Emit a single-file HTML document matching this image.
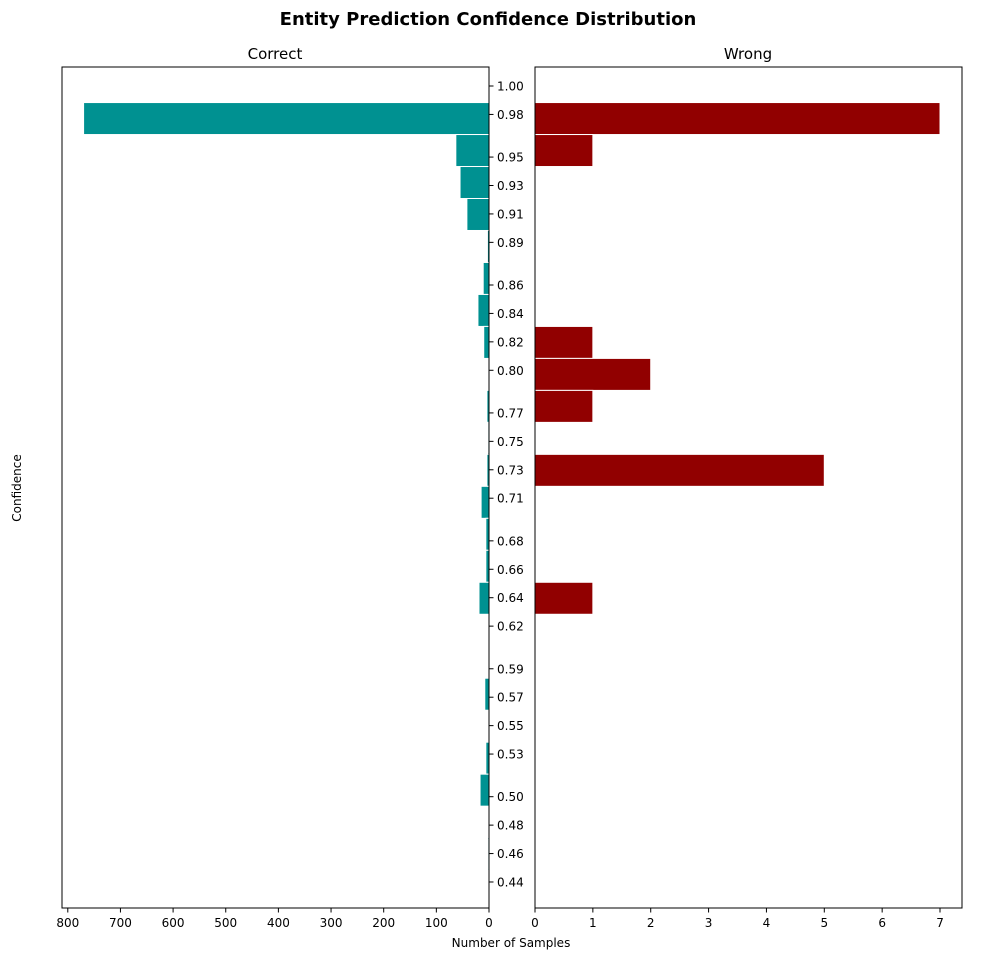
<!DOCTYPE html>
<html><head><meta charset="utf-8"><style>
body{margin:0;background:#fff;font-family:"Liberation Sans","DejaVu Sans",sans-serif;}
svg text{font-family:"DejaVu Sans","Liberation Sans",sans-serif;}
</style></head><body>
<svg id="chart" width="982" height="961" xmlns="http://www.w3.org/2000/svg">
<text x="488" y="25" text-anchor="middle" font-size="18" font-weight="bold">Entity Prediction Confidence Distribution</text>
<text x="275" y="59" text-anchor="middle" font-size="15">Correct</text>
<text x="748" y="59" text-anchor="middle" font-size="15">Wrong</text>
<text transform="translate(21,488) rotate(-90)" text-anchor="middle" font-size="12">Confidence</text>
<text x="511" y="947" text-anchor="middle" font-size="12">Number of Samples</text>
<g id="marks"></g>
<rect x="62" y="67" width="427" height="841" fill="none" stroke="#000" stroke-width="1"/>
<rect x="535" y="67" width="427" height="841" fill="none" stroke="#000" stroke-width="1"/>
</svg>
<script>
const binCenters=[0.9771,0.9546,0.9321,0.9096,0.8871,0.8646,0.8421,0.8196,0.7971,0.7746,0.7521,0.7296,0.7071,0.6846,0.6621,0.6396,0.6171,0.5946,0.5721,0.5496,0.5271,0.5046,0.4821,0.4596];
const correctCounts=[770,63,55,42,3,11,21,10,0,4,2,4,15,6,6,19,0,0,8,0,6,17,0,2];
const wrongCounts=[7,1,0,0,0,0,0,1,2,1,0,5,0,0,0,1,0,0,0,0,0,0,0,0];
const yTicks=[1.00,0.98,0.95,0.93,0.91,0.89,0.86,0.84,0.82,0.80,0.77,0.75,0.73,0.71,0.68,0.66,0.64,0.62,0.59,0.57,0.55,0.53,0.50,0.48,0.46,0.44];
const yTickLabels=["1.00","0.98","0.95","0.93","0.91","0.89","0.86","0.84","0.82","0.80","0.77","0.75","0.73","0.71","0.68","0.66","0.64","0.62","0.59","0.57","0.55","0.53","0.50","0.48","0.46","0.44"];
const leftTicks=[800,700,600,500,400,300,200,100,0];
const rightTicks=[0,1,2,3,4,5,6,7];
const binWidth=0.0225;
const NS="http://www.w3.org/2000/svg";
const g=document.getElementById('marks');
const yS=v=>86+(1-v)*1421.4;
const xL=v=>489-v*(427/811);
const xR=v=>535+v*(427/7.38);
function mk(tag,attrs){const e=document.createElementNS(NS,tag);for(const k in attrs)e.setAttribute(k,attrs[k]);g.appendChild(e);return e;}
binCenters.forEach((c,i)=>{
  const yt=yS(c+binWidth/2),h=binWidth*1421.4;
  if(correctCounts[i]>0){const r=mk('rect',{x:xL(correctCounts[i]),y:yt,width:489-xL(correctCounts[i]),height:h,fill:'#009191',stroke:'#fff','stroke-width':1});
  
  }
  if(wrongCounts[i]>0){const r=mk('rect',{x:535,y:yt,width:xR(wrongCounts[i])-535,height:h,fill:'#910000',stroke:'#fff','stroke-width':1});
  
  }
});
yTicks.forEach((v,i)=>{
  const y=yS(v);
  const l=mk('line',{x1:489,x2:493.5,y1:y,y2:y,stroke:'#000'});
  
  
  const t=mk('text',{x:497,y:y+4.5,'font-size':12});t.textContent=yTickLabels[i];
  
  
});
leftTicks.forEach(v=>{
  const x=xL(v);
  const l=mk('line',{x1:x,x2:x,y1:908,y2:912.5,stroke:'#000'});
  
  
  const t=mk('text',{x:x,y:927,'font-size':12,'text-anchor':'middle'});t.textContent=v;
  
  
});
rightTicks.forEach(v=>{
  const x=xR(v);
  const l=mk('line',{x1:x,x2:x,y1:908,y2:912.5,stroke:'#000'});
  
  
  const t=mk('text',{x:x,y:927,'font-size':12,'text-anchor':'middle'});t.textContent=v;
  
  
});
</script>
</body></html>
